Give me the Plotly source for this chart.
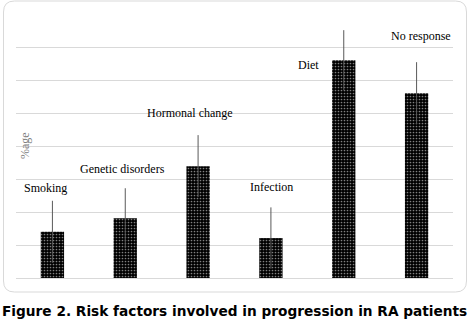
import plotly.graph_objects as go

categories = ["Smoking", "Genetic disorders", "Hormonal change", "Infection", "Diet", "No response"]
values = [1.40, 1.81, 3.39, 1.21, 6.60, 5.60]
errors = [0.94, 0.91, 0.94, 0.93, 0.91, 0.94]

# label placement (category offset, y in data units)
label_dx = [-0.09, -0.04, -0.11, 0.01, -0.49, 0.06]
label_y = [2.74, 3.30, 5.00, 2.76, 6.45, 7.33]

W, H = 472, 327
L, R, T, B = 16, 19, 14, 49
pw, ph = W - L - R, H - T - B

def px(xp):
    return (xp - L) / pw
def py(yp):
    return (H - B - yp) / ph

x_idx = list(range(len(categories)))

fig = go.Figure()
fig.add_trace(go.Bar(
    x=x_idx, y=values, width=0.32,
    marker=dict(color="black", line=dict(width=0),
                pattern=dict(shape=".", fgcolor="white", bgcolor="black",
                             size=3, solidity=0.25, fillmode="overlay")),
    error_y=dict(type="data", array=errors, symmetric=True,
                 color="#595959", thickness=1, width=0),
    hoverinfo="skip",
))

annotations = []
for i, name in enumerate(categories):
    annotations.append(dict(
        x=i + label_dx[i], y=label_y[i], xref="x", yref="y",
        text=name, showarrow=False,
        font=dict(family="Liberation Serif", size=12, color="black"),
        xanchor="center", yanchor="middle",
    ))

annotations.append(dict(
    x=px(25), y=4.0, xref="paper", yref="y",
    text="%age", textangle=-90, showarrow=False,
    font=dict(family="Liberation Serif", size=12, color="#808080"),
    xanchor="center", yanchor="middle",
))

annotations.append(dict(
    x=px(0), y=py(311), xref="paper", yref="paper",
    text="<b>Figure 2. Risk factors involved in progression in RA patients</b>",
    showarrow=False, xanchor="left", yanchor="middle",
    font=dict(family="DejaVu Sans", size=13.7, color="black"),
))

x0, x1, y0, y1, r = 3.5, 466.5, 1, 292, 11
path = (f"M {px(x0+r)} {py(y0)} L {px(x1-r)} {py(y0)} Q {px(x1)} {py(y0)} {px(x1)} {py(y0+r)} "
        f"L {px(x1)} {py(y1-r)} Q {px(x1)} {py(y1)} {px(x1-r)} {py(y1)} "
        f"L {px(x0+r)} {py(y1)} Q {px(x0)} {py(y1)} {px(x0)} {py(y1-r)} "
        f"L {px(x0)} {py(y0+r)} Q {px(x0)} {py(y0)} {px(x0+r)} {py(y0)} Z")

fig.update_layout(
    width=W, height=H,
    margin=dict(l=L, r=R, t=T, b=B, pad=0),
    paper_bgcolor="white", plot_bgcolor="white",
    showlegend=False,
    annotations=annotations,
    shapes=[dict(type="path", path=path, xref="paper", yref="paper",
                 line=dict(color="#d9d9d9", width=1), layer="below")],
    xaxis=dict(range=[-0.5, 5.5], showticklabels=False, showgrid=False,
               zeroline=False, showline=False, ticks=""),
    yaxis=dict(range=[0, 8], dtick=1, showticklabels=False, showgrid=True,
               gridcolor="#d9d9d9", gridwidth=1, zeroline=True,
               zerolinecolor="#d9d9d9", zerolinewidth=1, showline=False, ticks=""),
)

fig.write_html("out.html")
